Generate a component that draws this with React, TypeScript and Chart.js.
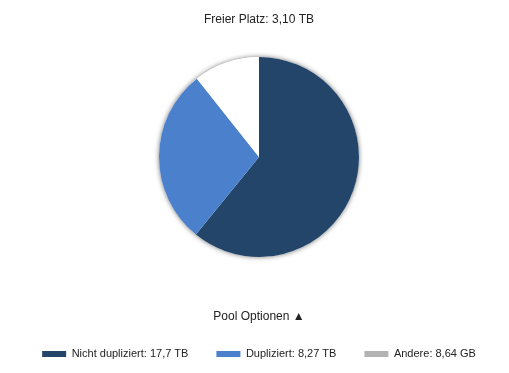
import React, { useEffect, useRef } from "react";
import { Chart, registerables } from "chart.js";

Chart.register(...registerables);

const categories = ["Nicht dupliziert", "Dupliziert", "Andere", "Freier Platz"];
const valuesTB = [17.7, 8.27, 0.00864, 3.10];
const valueLabels = ["17,7 TB", "8,27 TB", "8,64 GB", "3,10 TB"];
const colors = ["#23456a", "#4a80cc", "#b3b3b3", "#ffffff"];
const legendTitle = "Pool Optionen \u25B2";

const shadowPlugin = {
  id: "pieShadow",
  beforeDatasetsDraw(chart: any) {
    const arc = chart.getDatasetMeta(0).data[0];
    if (!arc) return;
    const { x, y, outerRadius } = arc.getProps(["x", "y", "outerRadius"], true);
    const ctx = chart.ctx;
    ctx.save();
    ctx.shadowColor = "rgba(0,0,0,0.55)";
    ctx.shadowBlur = 5;
    ctx.beginPath();
    ctx.arc(x, y, outerRadius, 0, Math.PI * 2);
    ctx.fillStyle = "#ffffff";
    ctx.fill();
    ctx.restore();
  },
};

export default function App() {
  const ref = useRef<HTMLCanvasElement>(null);
  useEffect(() => {
    if (!ref.current) return;
    Chart.defaults.font.family = "'Liberation Sans', Arial, sans-serif";
    Chart.defaults.font.size = 12;
    Chart.defaults.color = "#222";
    const chart = new Chart(ref.current, {
      type: "pie",
      data: {
        labels: categories,
        datasets: [
          {
            data: valuesTB,
            backgroundColor: colors,
            borderWidth: 0,
            radius: 100,
          } as any,
        ],
      },
      plugins: [shadowPlugin],
      options: {
        responsive: false,
        animation: false,
        layout: { padding: { left: 9, right: 0, top: 0, bottom: 3.5 } },
        plugins: {
          title: {
            display: true,
            text: "Freier Platz: " + valueLabels[3],
            font: { size: 12, weight: "normal" },
            color: "#222",
            padding: { top: 12, bottom: 16.6 },
          },
          tooltip: { enabled: false },
          legend: {
            position: "bottom",
            title: {
              display: true,
              text: legendTitle,
              padding: { top: 40, bottom: -4.9 } as any,
              font: { size: 12 },
              color: "#222",
            },
            labels: {
              boxWidth: 24,
              boxHeight: 6,
              padding: 28,
              font: { size: 11 },
              color: "#222",
              generateLabels: () =>
                categories.slice(0, 3).map((name, i) => ({
                  text: name + ": " + valueLabels[i],
                  fillStyle: colors[i],
                  strokeStyle: colors[i],
                  lineWidth: 0,
                  hidden: false,
                  index: i,
                })),
            },
          },
        },
      },
    });
    return () => chart.destroy();
  }, []);
  return (
    <div style={{ position: "absolute", left: 0, top: 0, width: 509, height: 373, background: "#fff" }}>
      <canvas ref={ref} width={509} height={373} style={{ width: 509, height: 373 }} />
    </div>
  );
}
